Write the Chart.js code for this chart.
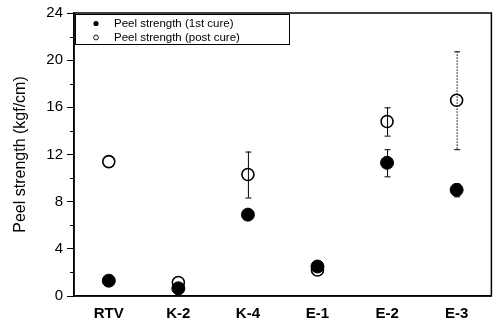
<!DOCTYPE html>
<html><head><meta charset="utf-8">
<script src="https://cdn.jsdelivr.net/npm/chart.js@4/dist/chart.umd.min.js"></script>
<style>html,body{margin:0;padding:0;background:#fff}#wrap{width:499px;height:321px;position:relative}</style>
</head><body><div id="wrap"><canvas id="c" width="499" height="321"></canvas></div>
<script>
const categories = ['RTV','K-2','K-4','E-1','E-2','E-3'];
const firstCure = [1.3, 0.65, 6.9, 2.5, 11.3, 9.0];
const firstCureErr = [0, 0, 0, 0, 1.15, 0.55];
const postCure = [11.4, 1.15, 10.3, 2.2, 14.8, 16.6];
const postCureErr = [0, 0, 1.95, 0, 1.2, 4.15];
const yTicks = [0, 4, 8, 12, 16, 20, 24];
const seriesNames = ['Peel strength (1st cure)', 'Peel strength (post cure)'];

const FONT = '"Liberation Sans", Arial, sans-serif';

const extras = {
  id: 'extras',
  afterDatasetsDraw(chart) {
    const ctx = chart.ctx, x = chart.scales.x, y = chart.scales.y, a = chart.chartArea;
    ctx.save();
    const drawErr = (vals, errs, dotted) => {
      vals.forEach((v, i) => {
        const e = errs[i]; if (!e) return;
        const px = x.getPixelForValue(i);
        const top = y.getPixelForValue(v + e), bot = y.getPixelForValue(v - e);
        ctx.strokeStyle = '#000'; ctx.lineWidth = 1;
        ctx.setLineDash(dotted(i) ? [1.5, 1.5] : []);
        ctx.beginPath(); ctx.moveTo(px + 0.5, top); ctx.lineTo(px + 0.5, bot); ctx.stroke();
        ctx.setLineDash([]);
        ctx.beginPath();
        ctx.moveTo(px - 2.5, top + 0.5); ctx.lineTo(px + 3.5, top + 0.5);
        ctx.moveTo(px - 2.5, bot + 0.5); ctx.lineTo(px + 3.5, bot + 0.5);
        ctx.stroke();
      });
    };
    drawErr(firstCure, firstCureErr, () => false);
    drawErr(postCure, postCureErr, i => i === 5);
    // minor y ticks
    ctx.strokeStyle = '#000'; ctx.lineWidth = 1;
    for (let v = 2; v < 24; v += 4) {
      const py = Math.round(y.getPixelForValue(v)) + 0.5;
      ctx.beginPath(); ctx.moveTo(a.left - 4, py); ctx.lineTo(a.left, py); ctx.stroke();
    }
    // frame
    ctx.lineWidth = 1.5;
    ctx.strokeRect(a.left, a.top, a.right - a.left, a.bottom - a.top);
    // legend box
    const lx = a.left + 1, ly = a.top + 1, lw = 214, lh = 30;
    ctx.fillStyle = '#fff'; ctx.fillRect(lx, ly, lw, lh);
    ctx.lineWidth = 1; ctx.strokeStyle = '#000';
    ctx.strokeRect(lx + 0.5, ly + 0.5, lw, lh);
    ctx.font = '11.5px ' + FONT; ctx.textBaseline = 'middle'; ctx.fillStyle = '#000';
    ctx.beginPath(); ctx.arc(96, ly + 9.5, 2.6, 0, Math.PI * 2); ctx.fill();
    ctx.fillText(seriesNames[0], 114, ly + 10);
    ctx.beginPath(); ctx.arc(96, ly + 23.5, 2.4, 0, Math.PI * 2); ctx.lineWidth = 0.9; ctx.stroke();
    ctx.fillText(seriesNames[1], 114, ly + 24);
    ctx.restore();
  }
};

new Chart(document.getElementById('c'), {
  type: 'line',
  data: {
    labels: categories,
    datasets: [
      { label: seriesNames[0], data: firstCure, showLine: false, pointRadius: 6.5, pointHoverRadius: 6.5,
        pointBackgroundColor: '#000', pointBorderColor: '#000', pointBorderWidth: 1 },
      { label: seriesNames[1], data: postCure, showLine: false, pointRadius: 6, pointHoverRadius: 6,
        pointBackgroundColor: '#fff', pointBorderColor: '#000', pointBorderWidth: 1.6 }
    ]
  },
  options: {
    responsive: false, animation: false,
    layout: { padding: { top: 13, right: 2, left: 0, bottom: 0 } },
    plugins: { legend: { display: false }, tooltip: { enabled: false } },
    scales: {
      x: {
        type: 'category', offset: true,
        grid: { display: false, drawOnChartArea: false, drawTicks: true, tickLength: 5, color: '#000' },
        border: { display: true, color: '#000', width: 1.5 },
        ticks: { color: '#000', font: { family: FONT, size: 15, weight: 'bold' }, padding: 4, maxRotation: 0 },
        afterFit(s) { s.height = 25; }
      },
      y: {
        min: 0, max: 24,
        afterBuildTicks(s) { s.ticks = yTicks.map(v => ({ value: v })); },
        grid: { drawOnChartArea: false, drawTicks: true, tickLength: 7, color: '#000' },
        border: { display: true, color: '#000', width: 1.5 },
        ticks: { color: '#000', font: { family: FONT, size: 15 }, padding: 4 },
        title: { display: true, text: 'Peel strength (kgf/cm)', color: '#000', font: { family: FONT, size: 16 }, padding: { top: 11, bottom: 0 } },
        afterFit(s) { s.width = 74; }
      }
    }
  },
  plugins: [extras]
});
</script></body></html>
